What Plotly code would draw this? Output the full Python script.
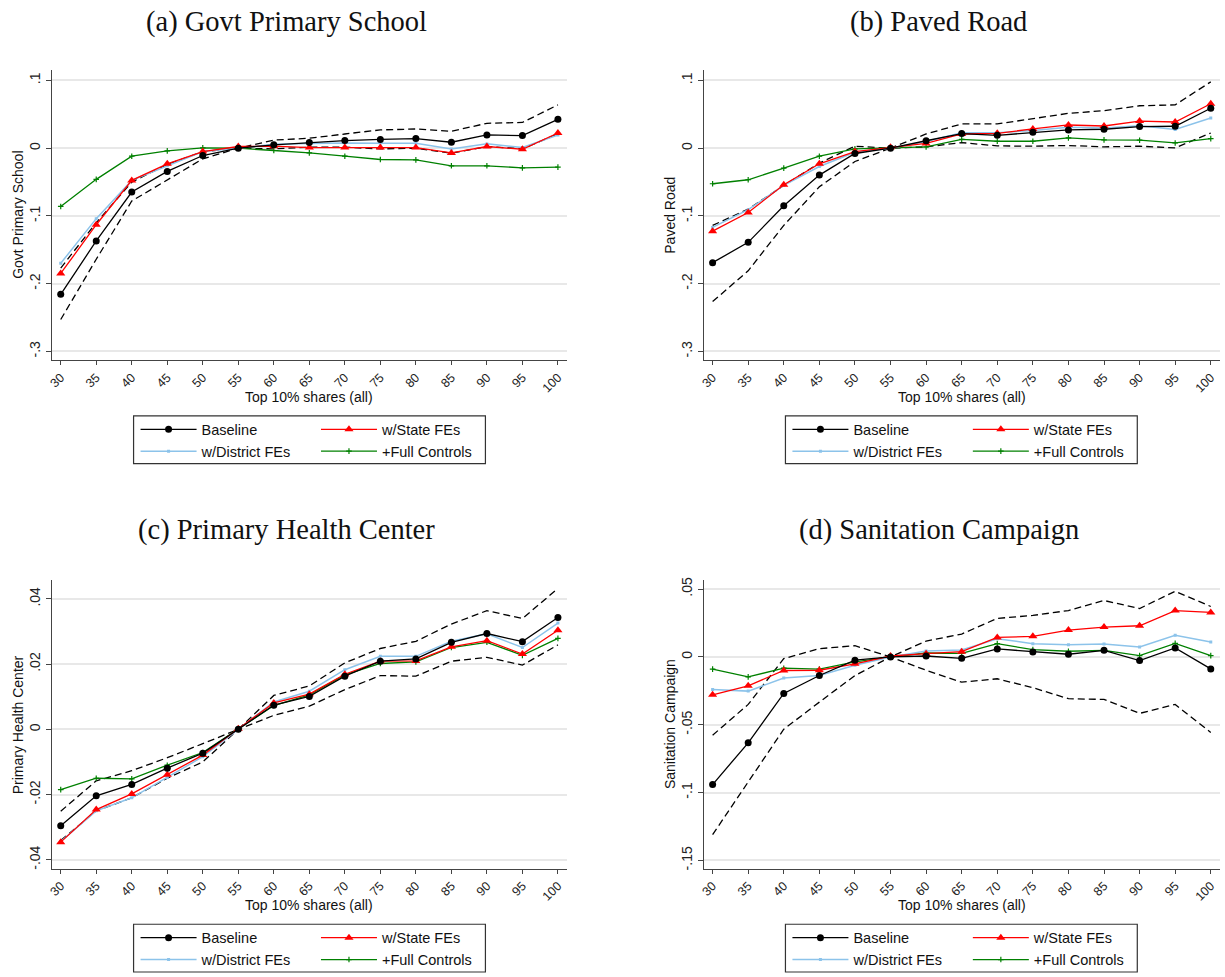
import plotly.graph_objects as go

W, H = 1225, 977

x_vals = [30, 35, 40, 45, 50, 55, 60, 65, 70, 75, 80, 85, 90, 95, 100]

titles = ["(a) Govt Primary School", "(b) Paved Road",
          "(c) Primary Health Center", "(d) Sanitation Campaign"]
ylabels = ["Govt Primary School", "Paved Road", "Primary Health Center", "Sanitation Campaign"]
xlabel = "Top 10% shares (all)"
series_names = ["Baseline", "w/State FEs", "w/District FEs", "+Full Controls"]

# (a) Govt Primary School
a_base = [-0.2157, -0.137, -0.0647, -0.0343, -0.0108, 0.0, 0.005, 0.0083, 0.0113, 0.013, 0.0142, 0.0088, 0.0196, 0.0186, 0.0426]
a_upper = [-0.177, -0.110, -0.050, -0.024, -0.005, 0.0, 0.012, 0.0147, 0.021, 0.027, 0.0284, 0.025, 0.0368, 0.038, 0.064]
a_lower = [-0.253, -0.164, -0.078, -0.0465, -0.0157, 0.0, -0.001, 0.0015, 0.0015, -0.001, 0.0, -0.0074, 0.0024, -0.0008, 0.021]
a_state = [-0.185, -0.113, -0.0475, -0.023, -0.005, 0.0025, 0.003, 0.001, 0.001, 0.001, 0.001, -0.007, 0.0025, -0.0015, 0.0225]
a_dist = [-0.170, -0.104, -0.0475, -0.026, -0.005, 0.0, 0.006, 0.007, 0.0078, 0.0074, 0.0074, -0.001, 0.0064, 0.001, 0.0196]
a_full = [-0.086, -0.046, -0.0118, -0.004, 0.0005, 0.0, -0.0034, -0.0069, -0.0118, -0.0167, -0.0172, -0.026, -0.026, -0.029, -0.028]

# (b) Paved Road
b_base = [-0.169, -0.139, -0.085, -0.0397, -0.0078, 0.0, 0.011, 0.0216, 0.019, 0.0235, 0.027, 0.028, 0.032, 0.0324, 0.059]
b_upper = [-0.114, -0.090, -0.055, -0.022, 0.003, 0.0, 0.021, 0.0358, 0.0358, 0.044, 0.0515, 0.0554, 0.0627, 0.064, 0.098]
b_lower = [-0.2265, -0.181, -0.114, -0.057, -0.0196, 0.0, 0.002, 0.0083, 0.0034, 0.003, 0.004, 0.002, 0.003, 0.0005, 0.0225]
b_state = [-0.1225, -0.095, -0.054, -0.023, -0.005, 0.0015, 0.007, 0.021, 0.022, 0.0284, 0.0343, 0.0328, 0.040, 0.0387, 0.0657]
b_dist = [-0.117, -0.0907, -0.055, -0.027, -0.006, 0.0, 0.010, 0.023, 0.023, 0.026, 0.031, 0.030, 0.0333, 0.0275, 0.0446]
b_full = [-0.0525, -0.0466, -0.0294, -0.0118, -0.001, 0.0, 0.002, 0.013, 0.0103, 0.0103, 0.0152, 0.0123, 0.0118, 0.0078, 0.0142]

# (c) Primary Health Center
c_base = [-0.0296, -0.0204, -0.0169, -0.0119, -0.0073, 0.0, 0.0074, 0.0101, 0.0163, 0.0209, 0.0216, 0.0267, 0.0294, 0.0269, 0.0343]
c_upper = [-0.0251, -0.0158, -0.0127, -0.0087, -0.0044, 0.0, 0.0104, 0.0133, 0.0204, 0.0248, 0.027, 0.0323, 0.0364, 0.034, 0.0432]
c_lower = [-0.0341, -0.025, -0.021, -0.015, -0.010, 0.0, 0.0043, 0.0071, 0.0122, 0.0165, 0.0163, 0.0209, 0.0221, 0.0197, 0.0259]
c_state = [-0.0346, -0.0246, -0.0198, -0.0139, -0.0079, 0.0002, 0.0081, 0.0108, 0.0169, 0.0209, 0.021, 0.0253, 0.0272, 0.0231, 0.0304]
c_dist = [-0.0344, -0.025, -0.021, -0.0148, -0.0084, 0.0, 0.0084, 0.0117, 0.0183, 0.0224, 0.0224, 0.027, 0.0293, 0.0251, 0.0326]
c_full = [-0.0185, -0.015, -0.0152, -0.011, -0.0071, 0.0, 0.0073, 0.0106, 0.0167, 0.0202, 0.0207, 0.0251, 0.0267, 0.0227, 0.0279]

# (d) Sanitation Campaign
d_base = [-0.0941, -0.0633, -0.0269, -0.0137, -0.0024, 0.0, 0.0007, -0.001, 0.0059, 0.0037, 0.002, 0.0049, -0.0027, 0.0066, -0.0088]
d_upper = [-0.0577, -0.035, -0.0012, 0.0061, 0.0083, 0.0, 0.0117, 0.0169, 0.0284, 0.0306, 0.0342, 0.0416, 0.0357, 0.0484, 0.0372]
d_lower = [-0.131, -0.0924, -0.0533, -0.0333, -0.0137, 0.0, -0.0098, -0.0186, -0.0161, -0.0227, -0.0308, -0.0313, -0.0416, -0.035, -0.0557]
d_state = [-0.0279, -0.0213, -0.010, -0.0098, -0.0051, 0.0007, 0.0024, 0.0039, 0.0144, 0.0152, 0.0198, 0.022, 0.023, 0.0342, 0.0328]
d_dist = [-0.024, -0.0252, -0.0156, -0.0137, -0.0061, 0.0, 0.0044, 0.0051, 0.0134, 0.0098, 0.009, 0.0095, 0.0073, 0.0159, 0.011]
d_full = [-0.009, -0.0147, -0.0083, -0.009, -0.0037, 0.0, 0.0029, 0.0027, 0.0098, 0.0054, 0.0042, 0.0049, 0.001, 0.010, 0.001]

panels = [
    dict(base=a_base, upper=a_upper, lower=a_lower, state=a_state, dist=a_dist, full=a_full),
    dict(base=b_base, upper=b_upper, lower=b_lower, state=b_state, dist=b_dist, full=b_full),
    dict(base=c_base, upper=c_upper, lower=c_lower, state=c_state, dist=c_dist, full=c_full),
    dict(base=d_base, upper=d_upper, lower=d_lower, state=d_state, dist=d_dist, full=d_full),
]

ytick_vals = [
    [0.1, 0.0, -0.1, -0.2, -0.3],
    [0.1, 0.0, -0.1, -0.2, -0.3],
    [0.04, 0.02, 0.0, -0.02, -0.04],
    [0.05, 0.0, -0.05, -0.1, -0.15],
]
ytick_text = [
    [".1", "0", "-.1", "-.2", "-.3"],
    [".1", "0", "-.1", "-.2", "-.3"],
    [".04", ".02", "0", "-.02", "-.04"],
    [".05", "0", "-.05", "-.1", "-.15"],
]
yranges = [[-0.313, 0.116], [-0.313, 0.116], [-0.0427, 0.0458], [-0.156, 0.0567]]

# layout geometry (pixels)
col_x = [(48, 565), (702, 1220)]
row_y = [(67, 359), (580, 870)]
row_off = [0, 511]
col_off = [0, 654]

BLUE = "#8cc3ea"
GREEN = "#008000"
RED = "#ff0000"
AXC = "#444444"

def px(x):
    return x / W

def py(y):
    return 1 - y / H

fig = go.Figure()
shapes = []
annotations = []
layout = {}

for i, p in enumerate(panels):
    r, c = divmod(i, 2)
    n = i + 1
    xa = "x" if n == 1 else f"x{n}"
    ya = "y" if n == 1 else f"y{n}"
    lg1 = "legend" if i == 0 else f"legend{2 * i + 1}"
    lg2 = f"legend{2 * i + 2}"

    common = dict(x=x_vals, xaxis=xa, yaxis=ya, hoverinfo="skip")
    fig.add_trace(go.Scatter(y=p["upper"], mode="lines", showlegend=False,
                             line=dict(color="black", width=1.3, dash="7px,4px"), legend=lg1, **common))
    fig.add_trace(go.Scatter(y=p["lower"], mode="lines", showlegend=False,
                             line=dict(color="black", width=1.3, dash="7px,4px"), legend=lg1, **common))
    fig.add_trace(go.Scatter(y=p["full"], mode="lines+markers", name=series_names[3], legend=lg2,
                             line=dict(color=GREEN, width=1.3),
                             marker=dict(symbol="cross-thin", size=4, color=GREEN, line=dict(color=GREEN, width=1.2)),
                             **common))
    fig.add_trace(go.Scatter(y=p["dist"], mode="lines+markers", name=series_names[2], legend=lg1,
                             line=dict(color=BLUE, width=1.5),
                             marker=dict(symbol="square", size=3, color=BLUE), **common))
    fig.add_trace(go.Scatter(y=p["state"], mode="lines+markers", name=series_names[1], legend=lg2,
                             line=dict(color=RED, width=1.3),
                             marker=dict(symbol="triangle-up", size=8, color=RED), **common))
    fig.add_trace(go.Scatter(y=p["base"], mode="lines+markers", name=series_names[0], legend=lg1,
                             line=dict(color="black", width=1.3),
                             marker=dict(symbol="circle", size=7, color="black"), **common))

    x0, x1 = col_x[c]
    y0, y1 = row_y[r]
    xkey = "xaxis" if n == 1 else f"xaxis{n}"
    ykey = "yaxis" if n == 1 else f"yaxis{n}"
    layout[xkey] = dict(domain=[px(x0), px(x1)], anchor=ya, range=[28.75, 101.3],
                        tickvals=x_vals, ticktext=[str(v) for v in x_vals], tickangle=-45,
                        showgrid=False, zeroline=False, showline=True, linecolor=AXC, linewidth=1.3,
                        ticks="outside", ticklen=4, tickcolor=AXC, tickwidth=1.2,
                        tickfont=dict(family="Liberation Sans, Arial, sans-serif", size=12.5, color="#222"))
    layout[ykey] = dict(domain=[py(y1), py(y0)], anchor=xa, range=yranges[i],
                        tickvals=ytick_vals[i], ticktext=ytick_text[i], tickangle=-90,
                        showgrid=True, gridcolor="#e8e8e8", gridwidth=1.5, zeroline=False,
                        showline=True, linecolor=AXC, linewidth=1.3,
                        ticks="outside", ticklen=5, tickcolor=AXC, tickwidth=1.2,
                        tickfont=dict(family="Liberation Sans, Arial, sans-serif", size=14, color="#222"))

    # panel title
    cx = [283, 938][c]
    annotations.append(dict(text=titles[i], x=px(cx), y=py(19 + row_off[r]), xref="paper", yref="paper",
                            xanchor="center", yanchor="middle", showarrow=False,
                            font=dict(family="Liberation Serif, serif", size=28.5, color="#111")))
    # y-axis title
    annotations.append(dict(text=ylabels[i], x=px(14 + col_off[c]), y=py((y0 + y1) / 2), xref="paper", yref="paper",
                            xanchor="center", yanchor="middle", showarrow=False, textangle=-90,
                            font=dict(family="Liberation Sans, Arial, sans-serif", size=14, color="#111")))
    # x-axis title
    annotations.append(dict(text=xlabel, x=px((x0 + x1) / 2), y=py(396 + row_off[r]), xref="paper", yref="paper",
                            xanchor="center", yanchor="middle", showarrow=False,
                            font=dict(family="Liberation Sans, Arial, sans-serif", size=14, color="#111")))
    # legend box
    bx = 130 + col_off[c]
    by = 415 + row_off[r]
    shapes.append(dict(type="rect", xref="paper", yref="paper",
                       x0=px(bx), x1=px(bx + 353), y0=py(by), y1=py(by + 48),
                       line=dict(color="#333", width=1.2), fillcolor="rgba(0,0,0,0)"))
    lfont = dict(family="Liberation Sans, Arial, sans-serif", size=14.5, color="#111")
    layout[lg1] = dict(x=px(bx + 2), y=py(by - 2.5), xanchor="left", yanchor="top",
                       bgcolor="rgba(0,0,0,0)", borderwidth=0, font=lfont,
                       itemwidth=56, traceorder="reversed", tracegroupgap=0)
    layout[lg2] = dict(x=px(bx + 183), y=py(by - 2.5), xanchor="left", yanchor="top",
                       bgcolor="rgba(0,0,0,0)", borderwidth=0, font=lfont,
                       itemwidth=56, traceorder="reversed", tracegroupgap=0)

fig.update_layout(width=W, height=H, margin=dict(l=0, r=0, t=0, b=0),
                  paper_bgcolor="white", plot_bgcolor="white",
                  shapes=shapes, annotations=annotations, showlegend=True, **layout)

fig.write_html("out.html")
